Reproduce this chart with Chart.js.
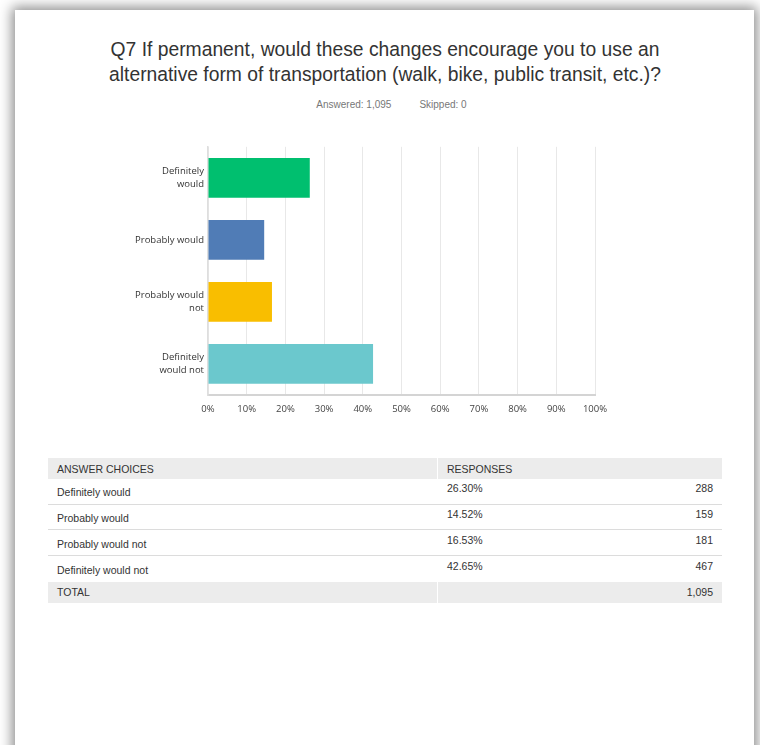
<!DOCTYPE html>
<html>
<head>
<meta charset="utf-8">
<script src="https://cdn.jsdelivr.net/npm/chart.js@4/dist/chart.umd.min.js"></script>
<style>
  html, body { margin: 0; padding: 0; background: #fff; overflow: hidden; }
  body { width: 760px; height: 745px; position: relative; }
  .card {
    position: absolute; left: 15px; top: 10px; width: 739px; height: 780px;
    background: #fff;
    box-shadow: 0 0 12px 3px rgba(0,0,0,0.45);
  }
  .title {
    position: absolute; left: 0; top: 37px; width: 770px; text-align: center;
    font-family: "Liberation Sans", Arial, sans-serif; font-size: 19.3px; line-height: 25px; color: #333;
  }
  .summary {
    position: absolute; left: 0; top: 99px; width: 783px; text-align: center;
    font-family: "Liberation Sans", Arial, sans-serif; font-size: 10px; color: #777;
  }
  .summary span + span { margin-left: 28px; }
  #chart-wrap { position: absolute; left: 100px; top: 130px; width: 520px; height: 290px; }
  table {
    position: absolute; left: 48px; top: 458px; width: 674px;
    border-collapse: collapse; table-layout: fixed;
    font-family: "Liberation Sans", Arial, sans-serif; font-size: 10.5px; line-height: 12px; color: #333;
  }
  td { padding: 0 0 0 9px; vertical-align: middle; overflow: hidden; white-space: nowrap; }
  tr.head td { background: #ececec; height: 21px; }
  tr.row td { height: 24.7px; border-bottom: 1px solid #dcdcdc; }
  tr.row.last td { border-bottom: none; height: 25.5px; }
  tr.total td { background: #ececec; height: 21px; }
  td.col1 { width: 380px; border-right: 1px solid #fff; }
  td.num { text-align: right; padding-right: 9px; }
  tr.row td.pct span, tr.row td.num span { position: relative; top: -3px; }
  tr.row td.col1 span { position: relative; top: 1px; }
</style>
</head>
<body>
<div class="card"></div>
<div class="title">Q7 If permanent, would these changes encourage you to use an<br>alternative form of transportation (walk, bike, public transit, etc.)?</div>
<div class="summary"><span id="answered"></span><span id="skipped"></span></div>
<div id="chart-wrap"><canvas id="chart-area"></canvas></div>
<table id="responses"></table>

<script>
// answer choices and response shares
var choices = ['Definitely would', 'Probably would', 'Probably would not', 'Definitely would not'];
var choiceLines = [['Definitely', 'would'], 'Probably would', ['Probably would', 'not'], ['Definitely', 'would not']];
var percents = [26.30, 14.52, 16.53, 42.65];
var counts = [288, 159, 181, 467];
var answered = 1095;
var skipped = 0;
var barColors = ['#00bf6f', '#507cb6', '#f9be00', '#6bc8cd'];

document.getElementById('answered').textContent = 'Answered: ' + answered.toLocaleString('en-US');
document.getElementById('skipped').textContent = 'Skipped: ' + skipped;

// summary table under the chart
var rows = '<tr class="head"><td class="col1">ANSWER CHOICES</td><td colspan="2">RESPONSES</td></tr>';
for (var i = 0; i < choices.length; i++) {
  var cls = i === choices.length - 1 ? 'row last' : 'row';
  rows += '<tr class="' + cls + '"><td class="col1"><span>' + choices[i] + '</span></td><td class="pct"><span>' +
    percents[i].toFixed(2) + '%</span></td><td class="num"><span>' + counts[i] + '</span></td></tr>';
}
rows += '<tr class="total"><td class="col1">TOTAL</td><td></td><td class="num">' +
  answered.toLocaleString('en-US') + '</td></tr>';
document.getElementById('responses').innerHTML = rows;

var tickFont = { family: '"Open Sans", sans-serif', size: 9.5, lineHeight: 1.35 };

var config = {
  type: 'bar',
  data: {
    labels: choiceLines,
    datasets: [{
      data: percents,
      backgroundColor: barColors,
      borderWidth: 0,
      categoryPercentage: 1,
      barPercentage: 0.64
    }]
  },
  options: {
    indexAxis: 'y',
    responsive: true,
    maintainAspectRatio: false,
    animation: false,
    layout: { padding: { top: 9, right: 25, left: 0, bottom: 0 } },
    plugins: { legend: { display: false }, tooltip: { enabled: false } },
    scales: {
      x: {
        min: 0, max: 100,
        ticks: {
          stepSize: 10, padding: 8, color: '#444', font: tickFont,
          callback: function(v) { return v + '%'; }
        },
        grid: { color: '#e8e8e8', lineWidth: 1, drawTicks: false },
        border: { color: '#d4d4d4', width: 2 },
        afterFit: function(scale) { scale.height = 25; }
      },
      y: {
        ticks: { padding: 4, color: '#333', font: tickFont },
        grid: { display: false, drawTicks: false },
        border: { color: '#dedede', width: 1.5 },
        afterFit: function(scale) { scale.width = 108; }
      }
    }
  }
};

window.onload = function() {
  var ctx = document.getElementById('chart-area').getContext('2d');
  window.myBar = new Chart(ctx, config);
};
</script>
</body>
</html>
